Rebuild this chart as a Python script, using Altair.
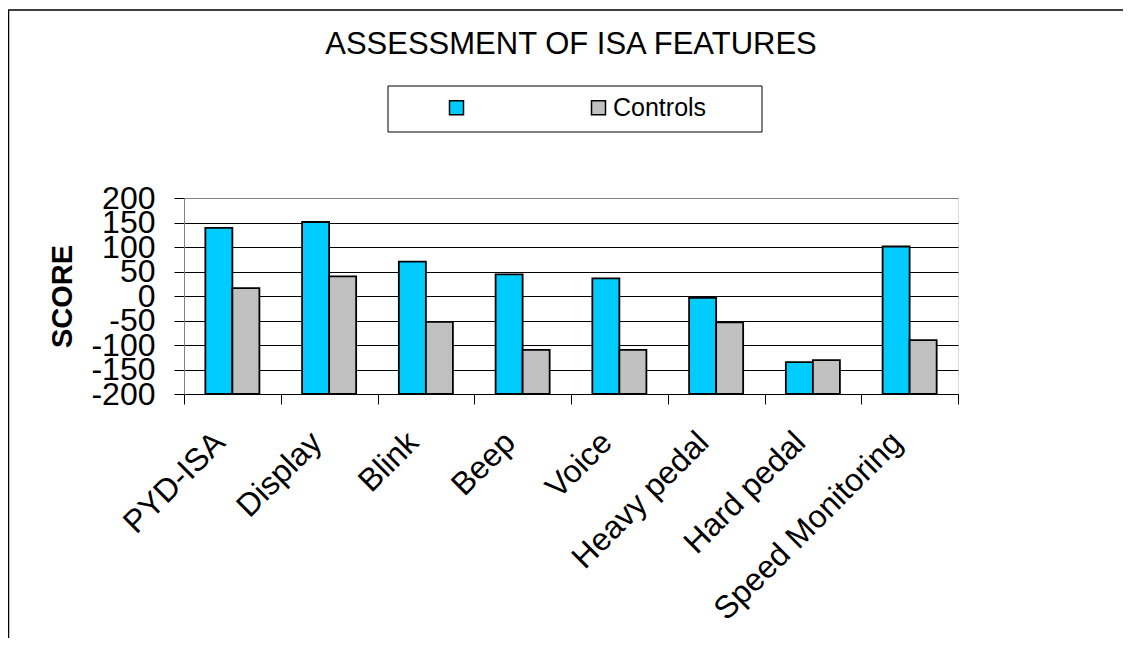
import altair as alt
import pandas as pd

categories = ["PYD-ISA", "Display", "Blink", "Beep", "Voice",
              "Heavy pedal", "Hard pedal", "Speed Monitoring"]
series_names = ["", "Controls"]
isa_scores = [139, 151, 70, 44, 36, -4, -135, 101]
control_scores = [16, 40, -53, -110, -110, -54, -131, -90]
y_ticks = [-200, -150, -100, -50, 0, 50, 100, 150, 200]
series_colors = ["#00CCFF", "#C0C0C0"]

rows = []
for cat, a, b in zip(categories, isa_scores, control_scores):
    rows.append({"feature": cat, "series": series_names[0], "score": a})
    rows.append({"feature": cat, "series": series_names[1], "score": b})
df = pd.DataFrame(rows)

FONT = "Liberation Sans"

bars = alt.Chart(df).mark_bar(stroke="black", strokeWidth=1.8).encode(
    x=alt.X(
        "feature:N", sort=categories,
        scale=alt.Scale(paddingInner=0, paddingOuter=0),
        axis=alt.Axis(
            title=None, labelAngle=315, labelAlign="right", labelBaseline="alphabetic",
            labelOffset=-6, labelPadding=40, tickSize=10, tickBand="extent",
            tickColor="black", tickWidth=1, domainColor="black", domainWidth=1,
            labelFont=FONT, labelFontSize=32, labelColor="black",
            labelOverlap=False, labelLimit=400, grid=False,
        ),
    ),
    xOffset=alt.XOffset(
        "series:N", sort=series_names,
        scale=alt.Scale(domain=series_names, paddingInner=0, paddingOuter=0.79),
    ),
    y=alt.Y(
        "score:Q",
        scale=alt.Scale(domain=[-200, 200], nice=False, zero=False),
        axis=alt.Axis(
            values=y_ticks, title="SCORE", labelExpr="toString(datum.value)",
            titleFont=FONT, titleFontSize=29, titleFontWeight="bold", titleColor="black",
            titleAngle=270, titleX=-122, titleY=98, titleAlign="center", titleBaseline="middle",
            labelFont=FONT, labelFontSize=32, labelColor="black", labelPadding=19,
            labelOverlap=False, labelFlush=False,
            tickSize=10, tickColor="black", tickWidth=1,
            domainColor="#808080", domainWidth=1,
            grid=True,
            gridColor=alt.condition("datum.value == 200", alt.value("#808080"), alt.value("black")),
            gridOpacity=1, gridWidth=1,
        ),
    ),
    y2=alt.datum(-200),
    color=alt.Color(
        "series:N",
        scale=alt.Scale(domain=series_names, range=series_colors),
        legend=alt.Legend(
            title=None, orient="none", legendX=260, legendY=-103,
            direction="horizontal", columns=2, columnPadding=115,
            labelOffset=2, symbolType="square", symbolSize=196,
            symbolStrokeColor="black", symbolStrokeWidth=1.5, symbolOpacity=1,
            labelFont=FONT, labelFontSize=25, labelColor="black", padding=0,
        ),
    ),
)

one_row = alt.Data(values=[{}])

frame = alt.Chart(one_row).mark_rect(filled=False, stroke="black", strokeWidth=1.5).encode(
    x=alt.value(-175.5), x2=alt.value(1500), y=alt.value(-188), y2=alt.value(1500)
)

legend_box = alt.Chart(one_row).mark_rect(filled=False, stroke="black", strokeWidth=1).encode(
    x=alt.value(204), x2=alt.value(578), y=alt.value(-112), y2=alt.value(-66)
)

chart = alt.layer(bars, legend_box, frame).properties(
    width=774,
    height=196,
    padding={"left": 176, "top": 190, "right": 165, "bottom": 244},
    autosize=alt.AutoSizeParams(type="none"),
    title=alt.TitleParams(
        "ASSESSMENT OF ISA FEATURES", font=FONT, fontSize=31, fontWeight="normal",
        color="black", anchor="middle", baseline="alphabetic", offset=-76,
    ),
).configure_view(
    stroke="#808080", strokeWidth=1
).configure(background="white")

chart.save("out.html", embed_options={"renderer": "svg", "actions": False})
